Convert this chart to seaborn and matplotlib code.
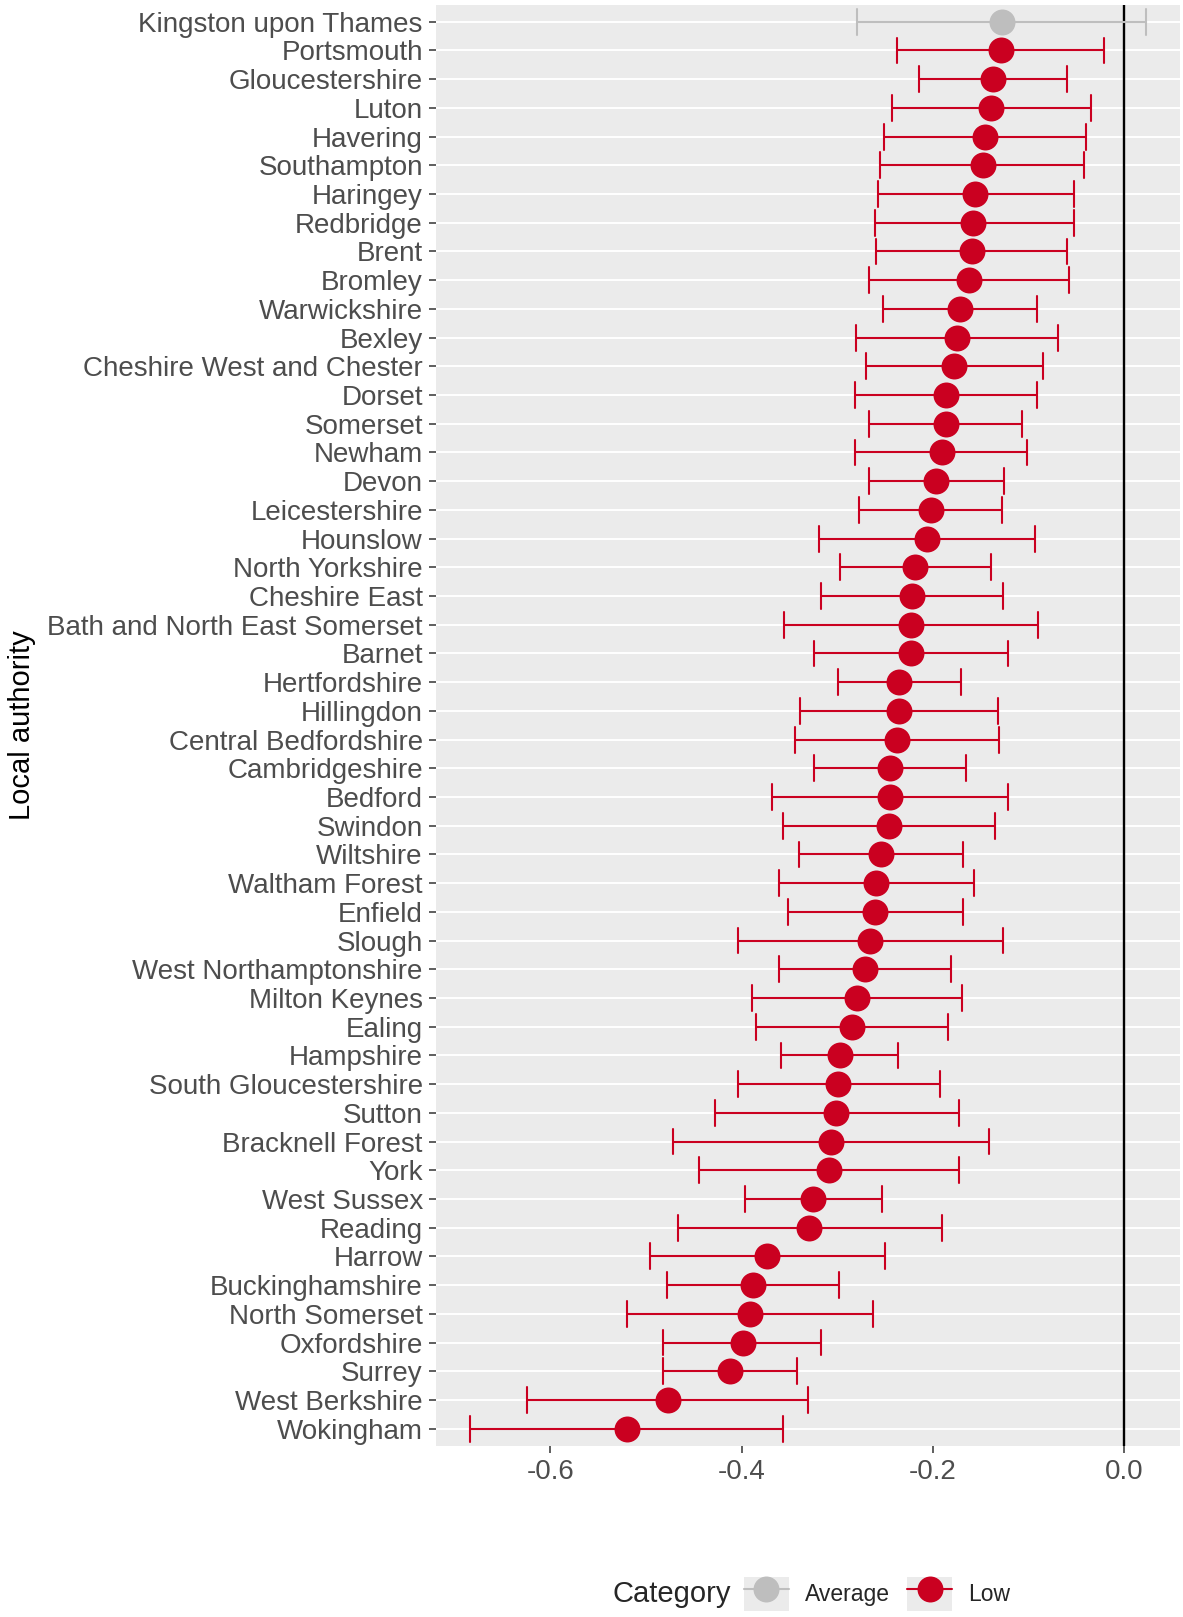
import numpy as np
import pandas as pd
import matplotlib
matplotlib.use("Agg")
import matplotlib.pyplot as plt
import seaborn as sns
from matplotlib.patches import Rectangle
from matplotlib.lines import Line2D
from matplotlib.legend_handler import HandlerTuple
from matplotlib.ticker import FormatStrFormatter

# local authorities, top to bottom
authorities = [
    "Kingston upon Thames", "Portsmouth", "Gloucestershire", "Luton", "Havering",
    "Southampton", "Haringey", "Redbridge", "Brent", "Bromley",
    "Warwickshire", "Bexley", "Cheshire West and Chester", "Dorset", "Somerset",
    "Newham", "Devon", "Leicestershire", "Hounslow", "North Yorkshire",
    "Cheshire East", "Bath and North East Somerset", "Barnet", "Hertfordshire", "Hillingdon",
    "Central Bedfordshire", "Cambridgeshire", "Bedford", "Swindon", "Wiltshire",
    "Waltham Forest", "Enfield", "Slough", "West Northamptonshire", "Milton Keynes",
    "Ealing", "Hampshire", "South Gloucestershire", "Sutton", "Bracknell Forest",
    "York", "West Sussex", "Reading", "Harrow", "Buckinghamshire",
    "North Somerset", "Oxfordshire", "Surrey", "West Berkshire", "Wokingham",
]

estimate = [
    -0.128, -0.129, -0.1375, -0.139, -0.146, -0.148, -0.156, -0.158, -0.159, -0.162,
    -0.172, -0.175, -0.178, -0.186, -0.1865, -0.191, -0.1965, -0.202, -0.206, -0.219,
    -0.222, -0.223, -0.223, -0.235, -0.2356, -0.238, -0.2446, -0.2446, -0.2456, -0.254,
    -0.259, -0.260, -0.266, -0.271, -0.2795, -0.285, -0.2975, -0.299, -0.301, -0.307,
    -0.309, -0.325, -0.329, -0.373, -0.388, -0.391, -0.399, -0.412, -0.477, -0.520,
]
lower = [
    -0.279, -0.238, -0.215, -0.243, -0.251, -0.255, -0.257, -0.261, -0.259, -0.267,
    -0.2525, -0.280, -0.270, -0.281, -0.267, -0.281, -0.267, -0.277, -0.319, -0.2975,
    -0.317, -0.356, -0.3245, -0.299, -0.339, -0.344, -0.324, -0.368, -0.357, -0.340,
    -0.361, -0.3515, -0.404, -0.361, -0.389, -0.385, -0.359, -0.404, -0.428, -0.472,
    -0.445, -0.396, -0.466, -0.496, -0.478, -0.520, -0.482, -0.482, -0.624, -0.684,
]
upper = [
    0.023, -0.021, -0.060, -0.035, -0.040, -0.042, -0.053, -0.053, -0.060, -0.058,
    -0.091, -0.0695, -0.085, -0.091, -0.1066, -0.102, -0.126, -0.128, -0.093, -0.139,
    -0.127, -0.090, -0.122, -0.171, -0.132, -0.131, -0.165, -0.121, -0.135, -0.1685,
    -0.157, -0.1685, -0.127, -0.181, -0.170, -0.184, -0.236, -0.193, -0.173, -0.141,
    -0.173, -0.253, -0.191, -0.250, -0.298, -0.263, -0.317, -0.342, -0.331, -0.357,
]
category = ["Average"] + ["Low"] * 49

cat_order = ["Average", "Low"]
palette = {"Average": "#BEBEBE", "Low": "#CA0020"}
xticks = [-0.6, -0.4, -0.2, 0.0]

# long table: lower / estimate / upper for each authority
rows = []
for a, c, l, e, u in zip(authorities, category, lower, estimate, upper):
    for v in (l, e, u):
        rows.append({"authority": a, "Category": c, "value": v})
df = pd.DataFrame(rows)

sns.set_theme(style="darkgrid")
plt.rcParams["font.family"] = ["Liberation Sans", "DejaVu Sans"]
plt.rcParams["axes.unicode_minus"] = False

fig = plt.figure(figsize=(11.83, 16.17), dpi=100)
ax = fig.add_axes([0.3686, 0.1058, 0.9975 - 0.3686, 0.9972 - 0.1058])
ax.set_facecolor("#EBEBEB")

sns.pointplot(
    data=df, x="value", y="authority", hue="Category",
    order=authorities, hue_order=cat_order, palette=palette,
    estimator="median", errorbar=lambda v: (v.min(), v.max()),
    markers="o", linestyle="none", markersize=18.7, markeredgewidth=0,
    capsize=0.9, err_kws={"linewidth": 1.5, "linestyle": "-"},
    dodge=False, legend=False, orient="y", ax=ax,
)

ax.axvline(0, color="black", lw=1.7, zorder=1)

lo_all, hi_all = min(lower), max(upper)
span = hi_all - lo_all
ax.set_xlim(lo_all - 0.05 * span, hi_all + 0.05 * span)
ax.set_ylim(len(authorities) - 0.4, -0.6)

ax.xaxis.grid(False)
ax.yaxis.grid(True, color="white", linewidth=1.4)
ax.set_axisbelow(True)
for s in ax.spines.values():
    s.set_visible(False)

ax.set_xticks(xticks)
ax.xaxis.set_major_formatter(FormatStrFormatter("%.1f"))
ax.tick_params(axis="both", which="major", length=5, width=1.1, color="#333333",
               labelsize=20, labelcolor="#4D4D4D", pad=4.5,
               bottom=True, left=True)
ax.set_xlabel("")
ax.set_ylabel("Local authority", fontsize=21, color="black")
ax.yaxis.set_label_coords(-0.538, 0.5)

# legend at the bottom
fig.text(612 / 1183, 0.0142, "Category", fontsize=21, va="center", ha="left")
handles = []
for c in cat_order:
    bg = Rectangle((0, 0), 1, 1, facecolor="#EBEBEB", edgecolor="none")
    ln = Line2D([], [], color=palette[c], marker="o", markersize=18.7,
                markeredgewidth=0, lw=1.5)
    handles.append((bg, ln))
fig.legend(handles, cat_order, handler_map={tuple: HandlerTuple(ndivide=1, pad=0)},
           loc="center left", bbox_to_anchor=(744 / 1183, 0.0142), ncol=2,
           frameon=False, fontsize=16.5, handlelength=1.96, handleheight=1.96,
           handletextpad=0.7, columnspacing=0.75, borderpad=0, borderaxespad=0,
           numpoints=1)

fig.savefig("out.png", dpi=100)
